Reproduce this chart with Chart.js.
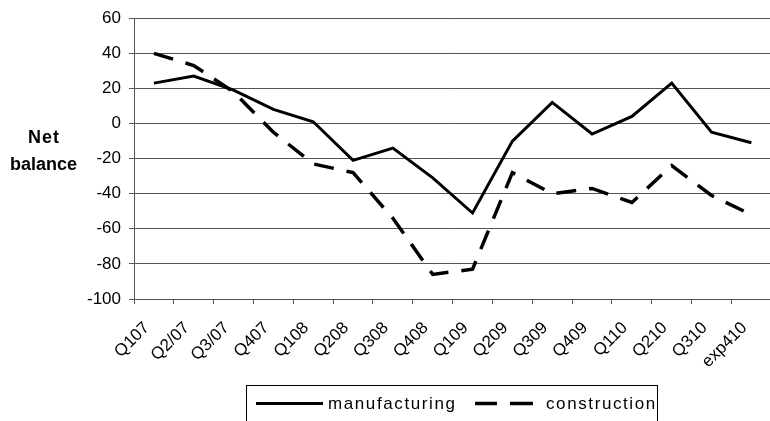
<!DOCTYPE html>
<html>
<head>
<meta charset="utf-8">
<script src="https://cdn.jsdelivr.net/npm/chart.js@4/dist/chart.umd.min.js"></script>
<style>
html,body{margin:0;padding:0;background:#fff;overflow:hidden;}
#wrap{width:780px;height:421px;}
</style>
</head>
<body>
<div id="wrap"><canvas id="c" width="780" height="421"></canvas></div>
<script>
const categories = ["Q107","Q2/07","Q3/07","Q407","Q108","Q208","Q308","Q408","Q109","Q209","Q309","Q409","Q110","Q210","Q310","exp410"];
const manufacturing = [23, 27, 19, 8, 1, -21, -14, -31, -51, -10, 12, -6, 4, 23, -5, -11];
const construction = [40, 33, 18, -5, -23, -28, -54, -86, -83, -28, -40, -37, -45, -24, -41, -52];
const yTicks = [60, 40, 20, 0, -20, -40, -60, -80, -100];
const seriesNames = ["manufacturing", "construction"];
const yTitle = ["Net", "balance"];

const FONT = "'Liberation Sans', Arial, sans-serif";

const extras = {
  id: 'extras',
  afterDraw(chart) {
    const ctx = chart.ctx;
    ctx.save();
    // y title
    ctx.fillStyle = '#000';
    ctx.font = "bold 18px " + FONT;
    ctx.textAlign = 'center';
    ctx.textBaseline = 'alphabetic';
    ctx.letterSpacing = '1px';
    ctx.fillText(yTitle[0], 44, 143);
    ctx.letterSpacing = '0px';
    ctx.fillText(yTitle[1], 43.5, 170);
    // legend box
    ctx.strokeStyle = '#000';
    ctx.lineWidth = 1;
    ctx.strokeRect(246.5, 385.5, 411, 60);
    const ds = chart.data.datasets;
    const ly = 403.5;
    ctx.lineWidth = ds[0].borderWidth;
    ctx.setLineDash([]);
    ctx.beginPath(); ctx.moveTo(256, ly); ctx.lineTo(323, ly); ctx.stroke();
    ctx.lineWidth = ds[1].borderWidth;
    ctx.beginPath(); ctx.moveTo(475, ly); ctx.lineTo(497, ly); ctx.moveTo(510, ly); ctx.lineTo(533, ly); ctx.stroke();
    ctx.font = "17px " + FONT;
    ctx.textAlign = 'left';
    ctx.textBaseline = 'alphabetic';
    ctx.letterSpacing = '1.6px';
    ctx.fillText(ds[0].label, 328, 409);
    ctx.letterSpacing = '1.6px';
    ctx.fillText(ds[1].label, 546, 409);
    ctx.restore();
  }
};

new Chart(document.getElementById('c'), {
  type: 'line',
  data: {
    labels: categories,
    datasets: [
      { label: seriesNames[0], data: manufacturing, borderColor: '#000', borderWidth: 3, pointRadius: 0, tension: 0, fill: false },
      { label: seriesNames[1], data: construction, borderColor: '#000', borderWidth: 3.5, borderDash: [20, 13], pointRadius: 0, tension: 0, fill: false }
    ]
  },
  options: {
    responsive: false,
    animation: false,
    layout: { padding: { top: 13, right: 6, left: 0, bottom: 0 } },
    plugins: { legend: { display: false }, tooltip: { enabled: false } },
    scales: {
      x: {
        offset: true,
        grid: { offset: true, drawOnChartArea: false, drawTicks: true, tickLength: 5, color: '#555' },
        border: { display: true, color: '#555', width: 1 },
        ticks: { minRotation: 45, maxRotation: 45, autoSkip: false, labelOffset: -7, padding: 14, color: '#000', font: { family: FONT, size: 17 } },
        afterFit(s) { s.height = 122; }
      },
      y: {
        min: -100, max: 60,
        afterBuildTicks(s) { s.ticks = yTicks.map(v => ({ value: v })); },
        grid: { color: '#555', lineWidth: 1, tickLength: 5, drawTicks: true },
        border: { display: true, color: '#555', width: 1 },
        ticks: { padding: 8, color: '#000', font: { family: FONT, size: 17 } },
        afterFit(s) { s.width = 134; }
      }
    }
  },
  plugins: [extras]
});
</script>
</body>
</html>
